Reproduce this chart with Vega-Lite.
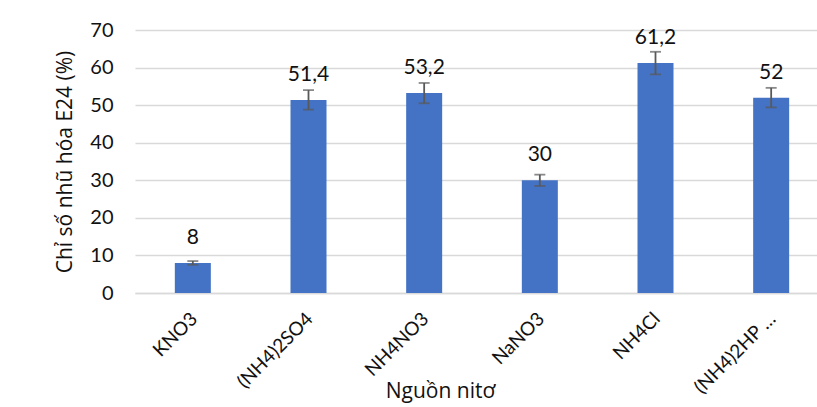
{
  "$schema": "https://vega.github.io/schema/vega-lite/v6.json",
  "autosize": "none",
  "padding": {"left": 135, "top": 30, "right": 0, "bottom": 114},
  "width": 694,
  "height": 263,
  "background": "white",
  "config": {
    "view": {"stroke": null},
    "font": "Lato",
    "axis": {"labelFont": "Lato", "titleFont": "Open Sans", "titleFontWeight": "normal"}
  },
  "data": {
    "values": [
      {"source": "KNO3", "value": 8, "label": "8", "lo": 7.5, "hi": 8.5},
      {"source": "(NH4)2SO4", "value": 51.4, "label": "51,4", "lo": 48.8, "hi": 54.0},
      {"source": "NH4NO3", "value": 53.2, "label": "53,2", "lo": 50.5, "hi": 55.9},
      {"source": "NaNO3", "value": 30, "label": "30", "lo": 28.5, "hi": 31.5},
      {"source": "NH4Cl", "value": 61.2, "label": "61,2", "lo": 58.2, "hi": 64.2},
      {"source": "(NH4)2HP …", "value": 52, "label": "52", "lo": 49.4, "hi": 54.6}
    ]
  },
  "resolve": {"axis": {"y": "independent"}},
  "encoding": {
    "x": {
      "field": "source",
      "type": "nominal",
      "sort": null,
      "scale": {"paddingInner": 0.69, "paddingOuter": 0.345},
      "axis": {
        "title": "Nguồn nitơ",
        "titleFontSize": 21,
        "titleColor": "#111",
        "titleY": 98,
        "titleX": 305,
        "titleBaseline": "middle",
        "labelAngle": -45,
        "labelFontSize": 19,
        "labelColor": "#111",
        "labelPadding": 16,
        "labelOffset": -5,
        "labelOverlap": false,
        "ticks": false,
        "domainColor": "#d9d9d9",
        "domainWidth": 1.5,
        "grid": false
      }
    }
  },
  "layer": [
    {
      "mark": {"type": "bar", "color": "#4472C4", "size": 36},
      "encoding": {
        "y": {
          "field": "value",
          "type": "quantitative",
          "scale": {"domain": [0, 70]},
          "axis": {
            "title": "Chỉ số nhũ hóa E24 (%)",
            "titleFontSize": 21,
            "titleColor": "#111",
            "titleX": -70,
            "titleBaseline": "middle",
            "values": [0, 10, 20, 30, 40, 50, 60, 70],
            "labelFontSize": 20,
            "labelColor": "#111",
            "labelPadding": 22,
            "labelOverlap": false,
            "labelFlush": false,
            "ticks": false,
            "domain": false,
            "grid": true,
            "gridColor": "#d9d9d9",
            "gridWidth": 1.5
          }
        }
      }
    },
    {
      "mark": {"type": "rule", "color": "#595959", "strokeWidth": 1.8},
      "encoding": {
        "y": {"field": "lo", "type": "quantitative", "axis": null},
        "y2": {"field": "hi"}
      }
    },
    {
      "mark": {"type": "tick", "color": "#595959", "size": 11, "thickness": 1.8},
      "encoding": {"y": {"field": "lo", "type": "quantitative", "axis": null}}
    },
    {
      "mark": {"type": "tick", "color": "#595959", "size": 11, "thickness": 1.8},
      "encoding": {"y": {"field": "hi", "type": "quantitative", "axis": null}}
    },
    {
      "mark": {"type": "text", "fontSize": 21, "color": "#111", "baseline": "middle", "dy": -25, "font": "Lato"},
      "encoding": {
        "y": {"field": "value", "type": "quantitative", "axis": null},
        "text": {"field": "label"}
      }
    }
  ]
}
